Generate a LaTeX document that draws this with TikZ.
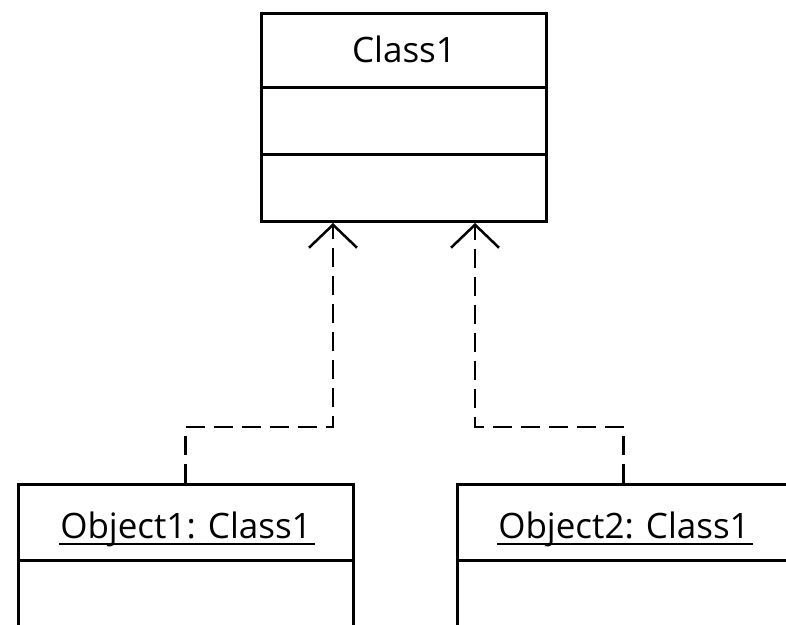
\documentclass[tikz,border=0pt]{standalone}
\usepackage{fontspec}
\setmainfont{Open Sans}
\usetikzlibrary{arrows.meta}

\tikzset{
  umlbox/.style={draw, line width=3pt, inner sep=0pt},
  divider/.style={line width=3pt},
  label/.style={inner sep=0pt, anchor=base, font=\fontsize{35}{42}\selectfont},
  ulinestyle/.style={line width=1.6pt},
  dep/.style={line width=2.5pt, dash pattern=on 19pt off 9pt,
    -{Straight Barb[length=23pt, width=48pt, line width=2.5pt]}}
}

\begin{document}
\begin{tikzpicture}[x=1pt, y=-1pt]
  \useasboundingbox (0,0) rectangle (786,624);
  \clip (0,0) rectangle (786,624);

  % class box with name, attribute and operation compartments
  \node[umlbox, minimum width=285pt, minimum height=208pt, anchor=north] (cls) at (403.5,12) {};
  \draw[divider] (261,87) -- (546,87);
  \draw[divider] (261,154) -- (546,154);
  \node[label] (clsname) at (404,62) {Class1};

  % object instances (the second one runs past the right edge)
  \node[umlbox, minimum width=335pt, minimum height=220pt, anchor=north] (o1) at (185.5,483) {};
  \node[umlbox, minimum width=420pt, minimum height=220pt, anchor=north west] (o2) at (456,483) {};
  \draw[divider] (o1.west |- 0,560) -- (o1.east |- 0,560);
  \draw[divider] (o2.west |- 0,560) -- (o2.east |- 0,560);

  \node[label] (o1name) at (186,538) {Object1: Class1};
  \node[label] (o2name) at (624,538) {Object2: Class1};
  \draw[ulinestyle] ([xshift=-1pt,yshift=-6pt]o1name.base west) -- ([xshift=3pt,yshift=-6pt]o1name.base east);
  \draw[ulinestyle] ([xshift=-1pt,yshift=-6pt]o2name.base west) -- ([xshift=3pt,yshift=-6pt]o2name.base east);

  % instance-of dependencies
  \coordinate (a1) at ([xshift=-70.5pt]cls.south);
  \coordinate (a2) at ([xshift=71.5pt]cls.south);
  \coordinate (o2top) at ([xshift=167.5pt]o2.north west);
  \draw[dep] (o1.north) -- ++(0,-56) -| (a1);
  \draw[dep] (o2top) -- ++(0,-56) -| (a2);
\end{tikzpicture}
\end{document}
